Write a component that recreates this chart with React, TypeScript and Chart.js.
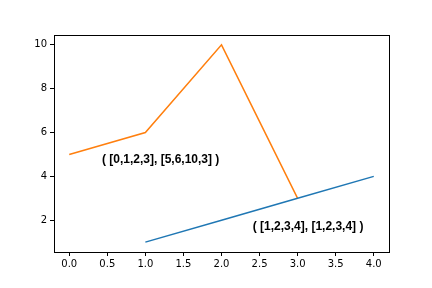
import React, { useEffect, useRef } from "react";
import { Chart, registerables } from "chart.js";

Chart.register(...registerables);

const blueX = [1, 2, 3, 4];
const blueY = [1, 2, 3, 4];
const orangeX = [0, 1, 2, 3];
const orangeY = [5, 6, 10, 3];
const xTicks = [0, 0.5, 1, 1.5, 2, 2.5, 3, 3.5, 4];
const yTicks = [2, 4, 6, 8, 10];
const labelTexts = ["( [0,1,2,3], [5,6,10,3] )", "( [1,2,3,4], [1,2,3,4] )"];
const labelX = [0.43, 2.41];
const labelY = [4.74, 1.71];

const FONT = "'DejaVu Sans', sans-serif";
const LABEL_FONT = "'Liberation Sans', Arial, sans-serif";

export default function App() {
  const ref = useRef<HTMLCanvasElement | null>(null);
  useEffect(() => {
    document.body.style.margin = "0";
    const canvas = ref.current!;
    const framePlugin = {
      id: "frame",
      afterDraw(chart: any) {
        const { ctx, chartArea: a, scales } = chart;
        ctx.save();
        ctx.strokeStyle = "#000";
        ctx.lineWidth = 1;
        ctx.strokeRect(Math.round(a.left) + 0.5, Math.round(a.top) + 0.5, Math.round(a.right - a.left), Math.round(a.bottom - a.top));
        ctx.fillStyle = "#000";
        ctx.font = `bold 12px ${LABEL_FONT}`;
        ctx.textAlign = "left";
        ctx.textBaseline = "middle";
        labelTexts.forEach((t, i) => {
          ctx.fillText(t, scales.x.getPixelForValue(labelX[i]), scales.y.getPixelForValue(labelY[i]));
        });
        ctx.restore();
      },
    };
    const chart = new Chart(canvas, {
      type: "line",
      data: {
        datasets: [
          {
            data: blueX.map((x, i) => ({ x, y: blueY[i] })),
            borderColor: "#1f77b4",
            borderWidth: 1.5,
            pointRadius: 0,
            fill: false,
            tension: 0,
          },
          {
            data: orangeX.map((x, i) => ({ x, y: orangeY[i] })),
            borderColor: "#ff7f0e",
            borderWidth: 1.5,
            pointRadius: 0,
            fill: false,
            tension: 0,
          },
        ],
      },
      options: {
        animation: false,
        responsive: false,
        devicePixelRatio: 1,
        layout: { padding: { left: 0, right: 43, top: 35, bottom: 0 } },
        plugins: { legend: { display: false }, tooltip: { enabled: false } },
        scales: {
          x: {
            type: "linear",
            min: -0.2,
            max: 4.2,
            afterBuildTicks: (s: any) => {
              s.ticks = xTicks.map((v) => ({ value: v }));
            },
            afterFit: (s: any) => {
              s.height = 36;
            },
            ticks: {
              callback: (v: any) => Number(v).toFixed(1),
              color: "#000",
              font: { family: FONT, size: 10 },
              padding: 2,
              maxRotation: 0,
              autoSkip: false,
            },
            grid: { drawOnChartArea: false, drawTicks: true, tickLength: 4, color: "#000" },
            border: { display: false },
          },
          y: {
            type: "linear",
            min: 0.55,
            max: 10.45,
            afterBuildTicks: (s: any) => {
              s.ticks = yTicks.map((v) => ({ value: v }));
            },
            afterFit: (s: any) => {
              s.width = 54;
            },
            ticks: {
              callback: (v: any) => String(v),
              color: "#000",
              font: { family: FONT, size: 10 },
              padding: 3,
              autoSkip: false,
            },
            grid: { drawOnChartArea: false, drawTicks: true, tickLength: 4, color: "#000" },
            border: { display: false },
          },
        },
      },
      plugins: [framePlugin],
    });
    return () => chart.destroy();
  }, []);
  return <canvas ref={ref} width={432} height={288} style={{ display: "block" }} />;
}
